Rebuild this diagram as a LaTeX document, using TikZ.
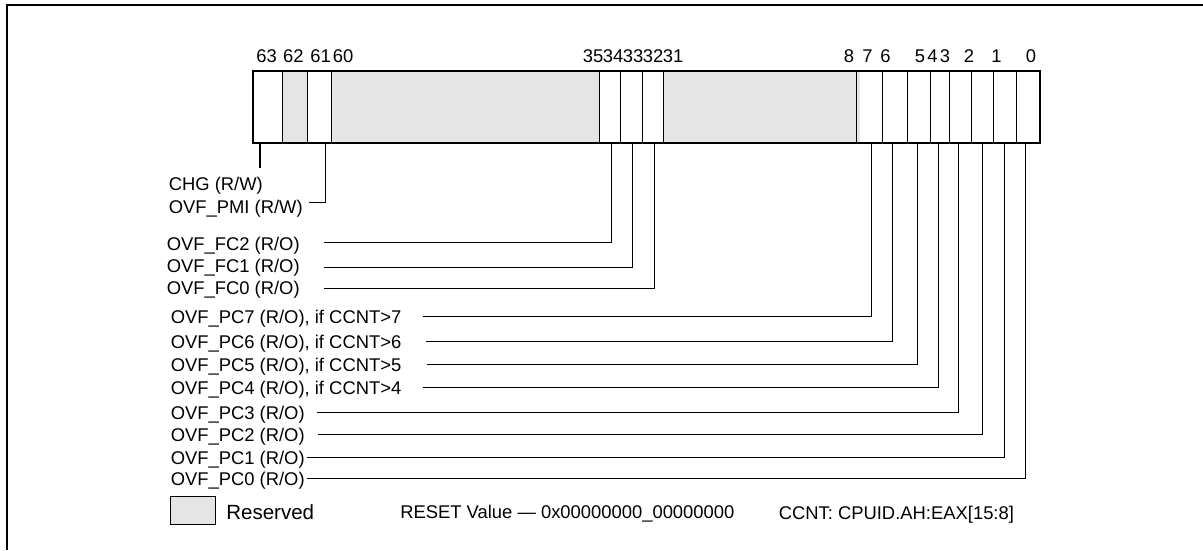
\documentclass[tikz,border=0pt]{standalone}
\usepackage{fontspec}
\setmainfont{Liberation Sans}
\definecolor{rsvd}{gray}{0.9}
\begin{document}
\begin{tikzpicture}[x=0.75pt,y=-0.75pt,
  lbl/.style={anchor=base west,inner sep=0pt,font=\fontsize{13.8}{16}\selectfont},
  bitno/.style={anchor=base,inner sep=0pt,font=\fontsize{13.8}{16}\selectfont},
  lead/.style={line width=0.75pt}]
  \useasboundingbox (0,0) rectangle (1203,550);
  \draw[line width=1.6pt] (7,550) -- (7,5) -- (1203,5);
  \fill[rsvd] (282.3,71) rectangle (307.7,143.3);
  \fill[rsvd] (331.7,71) rectangle (599.3,143.3);
  \fill[rsvd] (663.3,71) rectangle (860,143.3);
  \foreach \x in {282.3,307.7,331.7,599.3,620.5,642.5,663.3,856.7,882.7,907.3,930,949,971,993.3,1016.3}
    \draw[line width=0.6pt] (\x,71) -- (\x,143.3);
  \draw[line width=1.5pt] (252.7,71) rectangle (1040,143.3);
  \node[bitno] (n63) at (266.7,62.5) {63};
  \node[bitno] (n62) at (293.3,62.5) {62};
  \node[bitno] (n61) at (320.5,62.5) {61};
  \node[bitno] (n60) at (343,62.5) {60};
  \node[bitno] (n35) at (593,62.5) {35};
  \node[bitno] (n34) at (613,62.5) {34};
  \node[bitno] (n33) at (633,62.5) {33};
  \node[bitno] (n32) at (653,62.5) {32};
  \node[bitno] (n31) at (673,62.5) {31};
  \node[bitno] (n8) at (849,62.5) {8};
  \node[bitno] (n7) at (867.5,62.5) {7};
  \node[bitno] (n6) at (885.5,62.5) {6};
  \node[bitno] (n5) at (920,62.5) {5};
  \node[bitno] (n4) at (932.5,62.5) {4};
  \node[bitno] (n3) at (945,62.5) {3};
  \node[bitno] (n2) at (969,62.5) {2};
  \node[bitno] (n1) at (996.5,62.5) {1};
  \node[bitno] (n0) at (1031,62.5) {0};

  \coordinate (t63) at (260,143.3);
  \coordinate (e63) at (260,168.3);
  \draw[line width=1.5pt] (t63) -- (e63);
  \node[lbl] (chg) at (168.5,190.7) {CHG (R/W)};
  \node[lbl] (pmi) at (168.5,213.5) {OVF\_PMI (R/W)};
  \coordinate (t61) at (325.7,143.3);
  \coordinate (e61) at (309.3,202.7);
  \draw[lead] (e61) -| (t61);

  \node[lbl] (fc2) at (166.5,250) {OVF\_FC2 (R/O)};
  \node[lbl] (fc1) at (166.5,272.7) {OVF\_FC1 (R/O)};
  \node[lbl] (fc0) at (166.5,294.3) {OVF\_FC0 (R/O)};
  \coordinate (t34) at (611.7,143.3);
  \coordinate (e34) at (324,242.3);
  \coordinate (t33) at (632.7,143.3);
  \coordinate (e33) at (324,267);
  \coordinate (t32) at (654.5,143.3);
  \coordinate (e32) at (324,288.7);
  \draw[lead] (e34) -| (t34);
  \draw[lead] (e33) -| (t33);
  \draw[lead] (e32) -| (t32);

  \node[lbl] (pc7) at (170.5,323.5) {OVF\_PC7 (R/O), if CCNT>7};
  \node[lbl] (pc6) at (170.5,348.3) {OVF\_PC6 (R/O), if CCNT>6};
  \node[lbl] (pc5) at (170.5,371) {OVF\_PC5 (R/O), if CCNT>5};
  \node[lbl] (pc4) at (170.5,394.3) {OVF\_PC4 (R/O), if CCNT>4};
  \node[lbl] (pc3) at (170.5,419.3) {OVF\_PC3 (R/O)};
  \node[lbl] (pc2) at (170.5,441.3) {OVF\_PC2 (R/O)};
  \node[lbl] (pc1) at (170.5,464) {OVF\_PC1 (R/O)};
  \node[lbl] (pc0) at (170.5,485.3) {OVF\_PC0 (R/O)};
  \coordinate (t7) at (871.7,143.3);
  \coordinate (e7) at (422.7,316.7);
  \coordinate (t6) at (892.3,143.3);
  \coordinate (e6) at (426,341.5);
  \coordinate (t5) at (917.3,143.3);
  \coordinate (e5) at (426.7,364.2);
  \coordinate (t4) at (938.7,143.3);
  \coordinate (e4) at (422.7,387.5);
  \coordinate (t3) at (958.3,143.3);
  \coordinate (e3) at (316.7,412.5);
  \coordinate (t2) at (982,143.3);
  \coordinate (e2) at (318,434.5);
  \coordinate (t1) at (1004.3,143.3);
  \coordinate (e1) at (306.5,457.2);
  \coordinate (t0) at (1025.5,143.3);
  \coordinate (e0) at (306.5,478.5);
  \draw[lead] (e7) -| (t7);
  \draw[lead] (e6) -| (t6);
  \draw[lead] (e5) -| (t5);
  \draw[lead] (e4) -| (t4);
  \draw[lead] (e3) -| (t3);
  \draw[lead] (e2) -| (t2);
  \draw[lead] (e1) -| (t1);
  \draw[lead] (e0) -| (t0);

  \draw[line width=0.6pt,fill=rsvd] (170.7,496) rectangle (215,524.3);
  \node[lbl,font=\fontsize{15.4}{18}\selectfont] (rsv) at (226,519.3) {Reserved};
  \node[lbl] (rst) at (400,518.5) {RESET Value — 0x00000000\_00000000};
  \node[lbl] (cnt) at (778.5,519) {CCNT: CPUID.AH:EAX[15:8]};
\end{tikzpicture}
\end{document}
